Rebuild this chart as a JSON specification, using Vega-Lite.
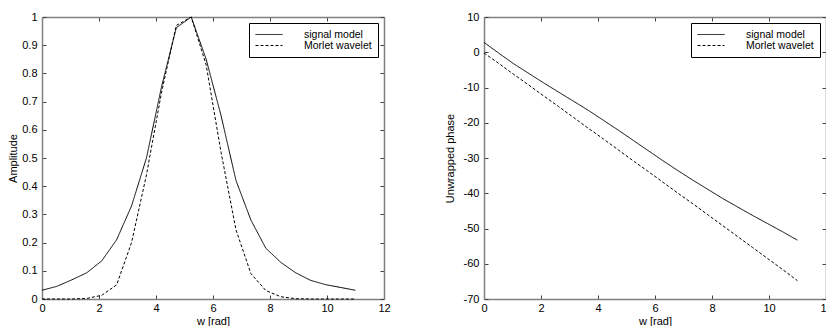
{
  "$schema": "https://vega.github.io/schema/vega-lite/v6.json",
  "background": "white",
  "padding": {"left": 7, "top": 11, "right": 0, "bottom": 0},
  "bounds": "flush",
  "spacing": 100,
  "resolve": {"scale": {"strokeDash": "independent"}, "legend": {"strokeDash": "independent"}},
  "config": {
    "font": "Liberation Sans",
    "view": {"stroke": null},
    "axis": {
      "grid": false,
      "domainColor": "#808080",
      "domainWidth": 1.5,
      "tickColor": "#404040",
      "tickSize": -4,
      "labelFont": "Liberation Sans",
      "labelFontSize": 11,
      "labelColor": "#000000",
      "labelPadding": 9,
      "labelFlush": false,
      "titleFont": "Liberation Sans",
      "titleFontSize": 11,
      "titleFontWeight": "normal",
      "titleColor": "#000000",
      "titlePadding": 3
    },
    "axisBottom": {"labelPadding": 7, "titlePadding": 2},
    "legend": {
      "orient": "top-right",
      "offset": 6,
      "title": null,
      "strokeColor": "#000000",
      "fillColor": "#ffffff",
      "padding": 6,
      "symbolType": "M-1,0H4.4",
      "symbolSize": 100,
      "symbolStrokeColor": "#000000",
      "symbolStrokeWidth": 1,
      "labelOffset": 38,
      "labelFont": "Liberation Sans",
      "labelFontSize": 10.5,
      "labelColor": "#000000",
      "rowPadding": -1
    },
    "line": {"color": "#000000", "strokeWidth": 1}
  },
  "hconcat": [
    {
      "width": 342,
      "height": 282,
      "data": {
        "values": [
          {"w": 0.000, "amp": 0.031, "series": "signal model"},
          {"w": 0.524, "amp": 0.045, "series": "signal model"},
          {"w": 1.047, "amp": 0.068, "series": "signal model"},
          {"w": 1.571, "amp": 0.093, "series": "signal model"},
          {"w": 2.094, "amp": 0.135, "series": "signal model"},
          {"w": 2.618, "amp": 0.210, "series": "signal model"},
          {"w": 3.142, "amp": 0.330, "series": "signal model"},
          {"w": 3.665, "amp": 0.500, "series": "signal model"},
          {"w": 4.189, "amp": 0.750, "series": "signal model"},
          {"w": 4.712, "amp": 0.962, "series": "signal model"},
          {"w": 5.236, "amp": 1.000, "series": "signal model"},
          {"w": 5.760, "amp": 0.850, "series": "signal model"},
          {"w": 6.283, "amp": 0.650, "series": "signal model"},
          {"w": 6.807, "amp": 0.420, "series": "signal model"},
          {"w": 7.330, "amp": 0.280, "series": "signal model"},
          {"w": 7.854, "amp": 0.180, "series": "signal model"},
          {"w": 8.378, "amp": 0.130, "series": "signal model"},
          {"w": 8.901, "amp": 0.093, "series": "signal model"},
          {"w": 9.425, "amp": 0.066, "series": "signal model"},
          {"w": 9.948, "amp": 0.051, "series": "signal model"},
          {"w": 10.472, "amp": 0.041, "series": "signal model"},
          {"w": 10.996, "amp": 0.031, "series": "signal model"},
          {"w": 0.000, "amp": 0.000, "series": "Morlet wavelet"},
          {"w": 0.524, "amp": 0.000, "series": "Morlet wavelet"},
          {"w": 1.047, "amp": 0.000, "series": "Morlet wavelet"},
          {"w": 1.571, "amp": 0.002, "series": "Morlet wavelet"},
          {"w": 2.094, "amp": 0.013, "series": "Morlet wavelet"},
          {"w": 2.618, "amp": 0.050, "series": "Morlet wavelet"},
          {"w": 3.142, "amp": 0.200, "series": "Morlet wavelet"},
          {"w": 3.665, "amp": 0.440, "series": "Morlet wavelet"},
          {"w": 4.189, "amp": 0.730, "series": "Morlet wavelet"},
          {"w": 4.712, "amp": 0.970, "series": "Morlet wavelet"},
          {"w": 5.236, "amp": 1.000, "series": "Morlet wavelet"},
          {"w": 5.760, "amp": 0.830, "series": "Morlet wavelet"},
          {"w": 6.283, "amp": 0.520, "series": "Morlet wavelet"},
          {"w": 6.807, "amp": 0.245, "series": "Morlet wavelet"},
          {"w": 7.330, "amp": 0.090, "series": "Morlet wavelet"},
          {"w": 7.854, "amp": 0.030, "series": "Morlet wavelet"},
          {"w": 8.378, "amp": 0.008, "series": "Morlet wavelet"},
          {"w": 8.901, "amp": 0.001, "series": "Morlet wavelet"},
          {"w": 9.425, "amp": 0.000, "series": "Morlet wavelet"},
          {"w": 9.948, "amp": 0.000, "series": "Morlet wavelet"},
          {"w": 10.472, "amp": 0.000, "series": "Morlet wavelet"},
          {"w": 10.996, "amp": 0.000, "series": "Morlet wavelet"}
        ]
      },
      "layer": [
        {
          "transform": [{"filter": "datum.series === 'signal model'"}],
          "mark": {"type": "line"},
          "encoding": {
            "x": {"field": "w", "type": "quantitative", "scale": {"domain": [0, 12], "nice": false},
                  "axis": {"orient": "bottom", "values": [0, 2, 4, 6, 8, 10, 12], "title": "w [rad]"}},
            "y": {"field": "amp", "type": "quantitative", "scale": {"domain": [0, 1], "nice": false},
                  "axis": {"orient": "left", "values": [0, 0.1, 0.2, 0.3, 0.4, 0.5, 0.6, 0.7, 0.8, 0.9, 1], "format": "~g", "title": "Amplitude"}},
            "strokeDash": {"field": "series", "type": "nominal",
                           "scale": {"domain": ["signal model", "Morlet wavelet"], "range": [[1, 0], [3, 2]]}}
          }
        },
        {
          "transform": [{"filter": "datum.series === 'Morlet wavelet'"}],
          "mark": {"type": "line"},
          "encoding": {
            "x": {"field": "w", "type": "quantitative", "scale": {"domain": [0, 12], "nice": false},
                  "axis": {"orient": "top", "values": [0, 2, 4, 6, 8, 10, 12], "labels": false, "title": null}},
            "y": {"field": "amp", "type": "quantitative", "scale": {"domain": [0, 1], "nice": false},
                  "axis": {"orient": "right", "values": [0, 0.1, 0.2, 0.3, 0.4, 0.5, 0.6, 0.7, 0.8, 0.9, 1], "labels": false, "title": null}},
            "strokeDash": {"field": "series", "type": "nominal",
                           "scale": {"domain": ["signal model", "Morlet wavelet"], "range": [[1, 0], [3, 2]]}}
          }
        }
      ],
      "resolve": {"axis": {"x": "independent", "y": "independent"}}
    },
    {
      "width": 342,
      "height": 282,
      "data": {
        "values": [
          {"w": 0.000, "phase": 2.8, "series": "signal model"},
          {"w": 0.524, "phase": -0.3, "series": "signal model"},
          {"w": 1.047, "phase": -3.3, "series": "signal model"},
          {"w": 1.571, "phase": -6.0, "series": "signal model"},
          {"w": 2.094, "phase": -8.7, "series": "signal model"},
          {"w": 2.618, "phase": -11.3, "series": "signal model"},
          {"w": 3.142, "phase": -13.9, "series": "signal model"},
          {"w": 3.665, "phase": -16.5, "series": "signal model"},
          {"w": 4.189, "phase": -19.3, "series": "signal model"},
          {"w": 4.712, "phase": -22.1, "series": "signal model"},
          {"w": 5.236, "phase": -25.0, "series": "signal model"},
          {"w": 5.760, "phase": -27.9, "series": "signal model"},
          {"w": 6.283, "phase": -30.8, "series": "signal model"},
          {"w": 6.807, "phase": -33.6, "series": "signal model"},
          {"w": 7.330, "phase": -36.3, "series": "signal model"},
          {"w": 7.854, "phase": -38.9, "series": "signal model"},
          {"w": 8.378, "phase": -41.5, "series": "signal model"},
          {"w": 8.901, "phase": -43.9, "series": "signal model"},
          {"w": 9.425, "phase": -46.3, "series": "signal model"},
          {"w": 9.948, "phase": -48.6, "series": "signal model"},
          {"w": 10.472, "phase": -50.9, "series": "signal model"},
          {"w": 10.996, "phase": -53.3, "series": "signal model"},
          {"w": 0.000, "phase": -0.2, "series": "Morlet wavelet"},
          {"w": 0.524, "phase": -3.2, "series": "Morlet wavelet"},
          {"w": 1.047, "phase": -6.3, "series": "Morlet wavelet"},
          {"w": 1.571, "phase": -9.3, "series": "Morlet wavelet"},
          {"w": 2.094, "phase": -12.4, "series": "Morlet wavelet"},
          {"w": 2.618, "phase": -15.4, "series": "Morlet wavelet"},
          {"w": 3.142, "phase": -18.5, "series": "Morlet wavelet"},
          {"w": 3.665, "phase": -21.6, "series": "Morlet wavelet"},
          {"w": 4.189, "phase": -24.6, "series": "Morlet wavelet"},
          {"w": 4.712, "phase": -27.7, "series": "Morlet wavelet"},
          {"w": 5.236, "phase": -30.8, "series": "Morlet wavelet"},
          {"w": 5.760, "phase": -33.8, "series": "Morlet wavelet"},
          {"w": 6.283, "phase": -36.9, "series": "Morlet wavelet"},
          {"w": 6.807, "phase": -40.0, "series": "Morlet wavelet"},
          {"w": 7.330, "phase": -43.0, "series": "Morlet wavelet"},
          {"w": 7.854, "phase": -46.1, "series": "Morlet wavelet"},
          {"w": 8.378, "phase": -49.2, "series": "Morlet wavelet"},
          {"w": 8.901, "phase": -52.3, "series": "Morlet wavelet"},
          {"w": 9.425, "phase": -55.4, "series": "Morlet wavelet"},
          {"w": 9.948, "phase": -58.5, "series": "Morlet wavelet"},
          {"w": 10.472, "phase": -61.6, "series": "Morlet wavelet"},
          {"w": 10.996, "phase": -64.8, "series": "Morlet wavelet"}
        ]
      },
      "layer": [
        {
          "transform": [{"filter": "datum.series === 'signal model'"}],
          "mark": {"type": "line"},
          "encoding": {
            "x": {"field": "w", "type": "quantitative", "scale": {"domain": [0, 12], "nice": false},
                  "axis": {"orient": "bottom", "values": [0, 2, 4, 6, 8, 10, 12], "title": "w [rad]"}},
            "y": {"field": "phase", "type": "quantitative", "scale": {"domain": [-70, 10], "nice": false},
                  "axis": {"orient": "left", "values": [-70, -60, -50, -40, -30, -20, -10, 0, 10], "labelExpr": "replace(datum.label, '\u2212', '-')", "title": "Unwrapped phase", "titlePadding": 8}},
            "strokeDash": {"field": "series", "type": "nominal",
                           "scale": {"domain": ["signal model", "Morlet wavelet"], "range": [[1, 0], [3, 2]]}}
          }
        },
        {
          "transform": [{"filter": "datum.series === 'Morlet wavelet'"}],
          "mark": {"type": "line"},
          "encoding": {
            "x": {"field": "w", "type": "quantitative", "scale": {"domain": [0, 12], "nice": false},
                  "axis": {"orient": "top", "values": [0, 2, 4, 6, 8, 10, 12], "labels": false, "title": null}},
            "y": {"field": "phase", "type": "quantitative", "scale": {"domain": [-70, 10], "nice": false},
                  "axis": {"orient": "right", "values": [-70, -60, -50, -40, -30, -20, -10, 0, 10], "labels": false, "title": null}},
            "strokeDash": {"field": "series", "type": "nominal",
                           "scale": {"domain": ["signal model", "Morlet wavelet"], "range": [[1, 0], [3, 2]]}}
          }
        }
      ],
      "resolve": {"axis": {"x": "independent", "y": "independent"}}
    }
  ]
}
